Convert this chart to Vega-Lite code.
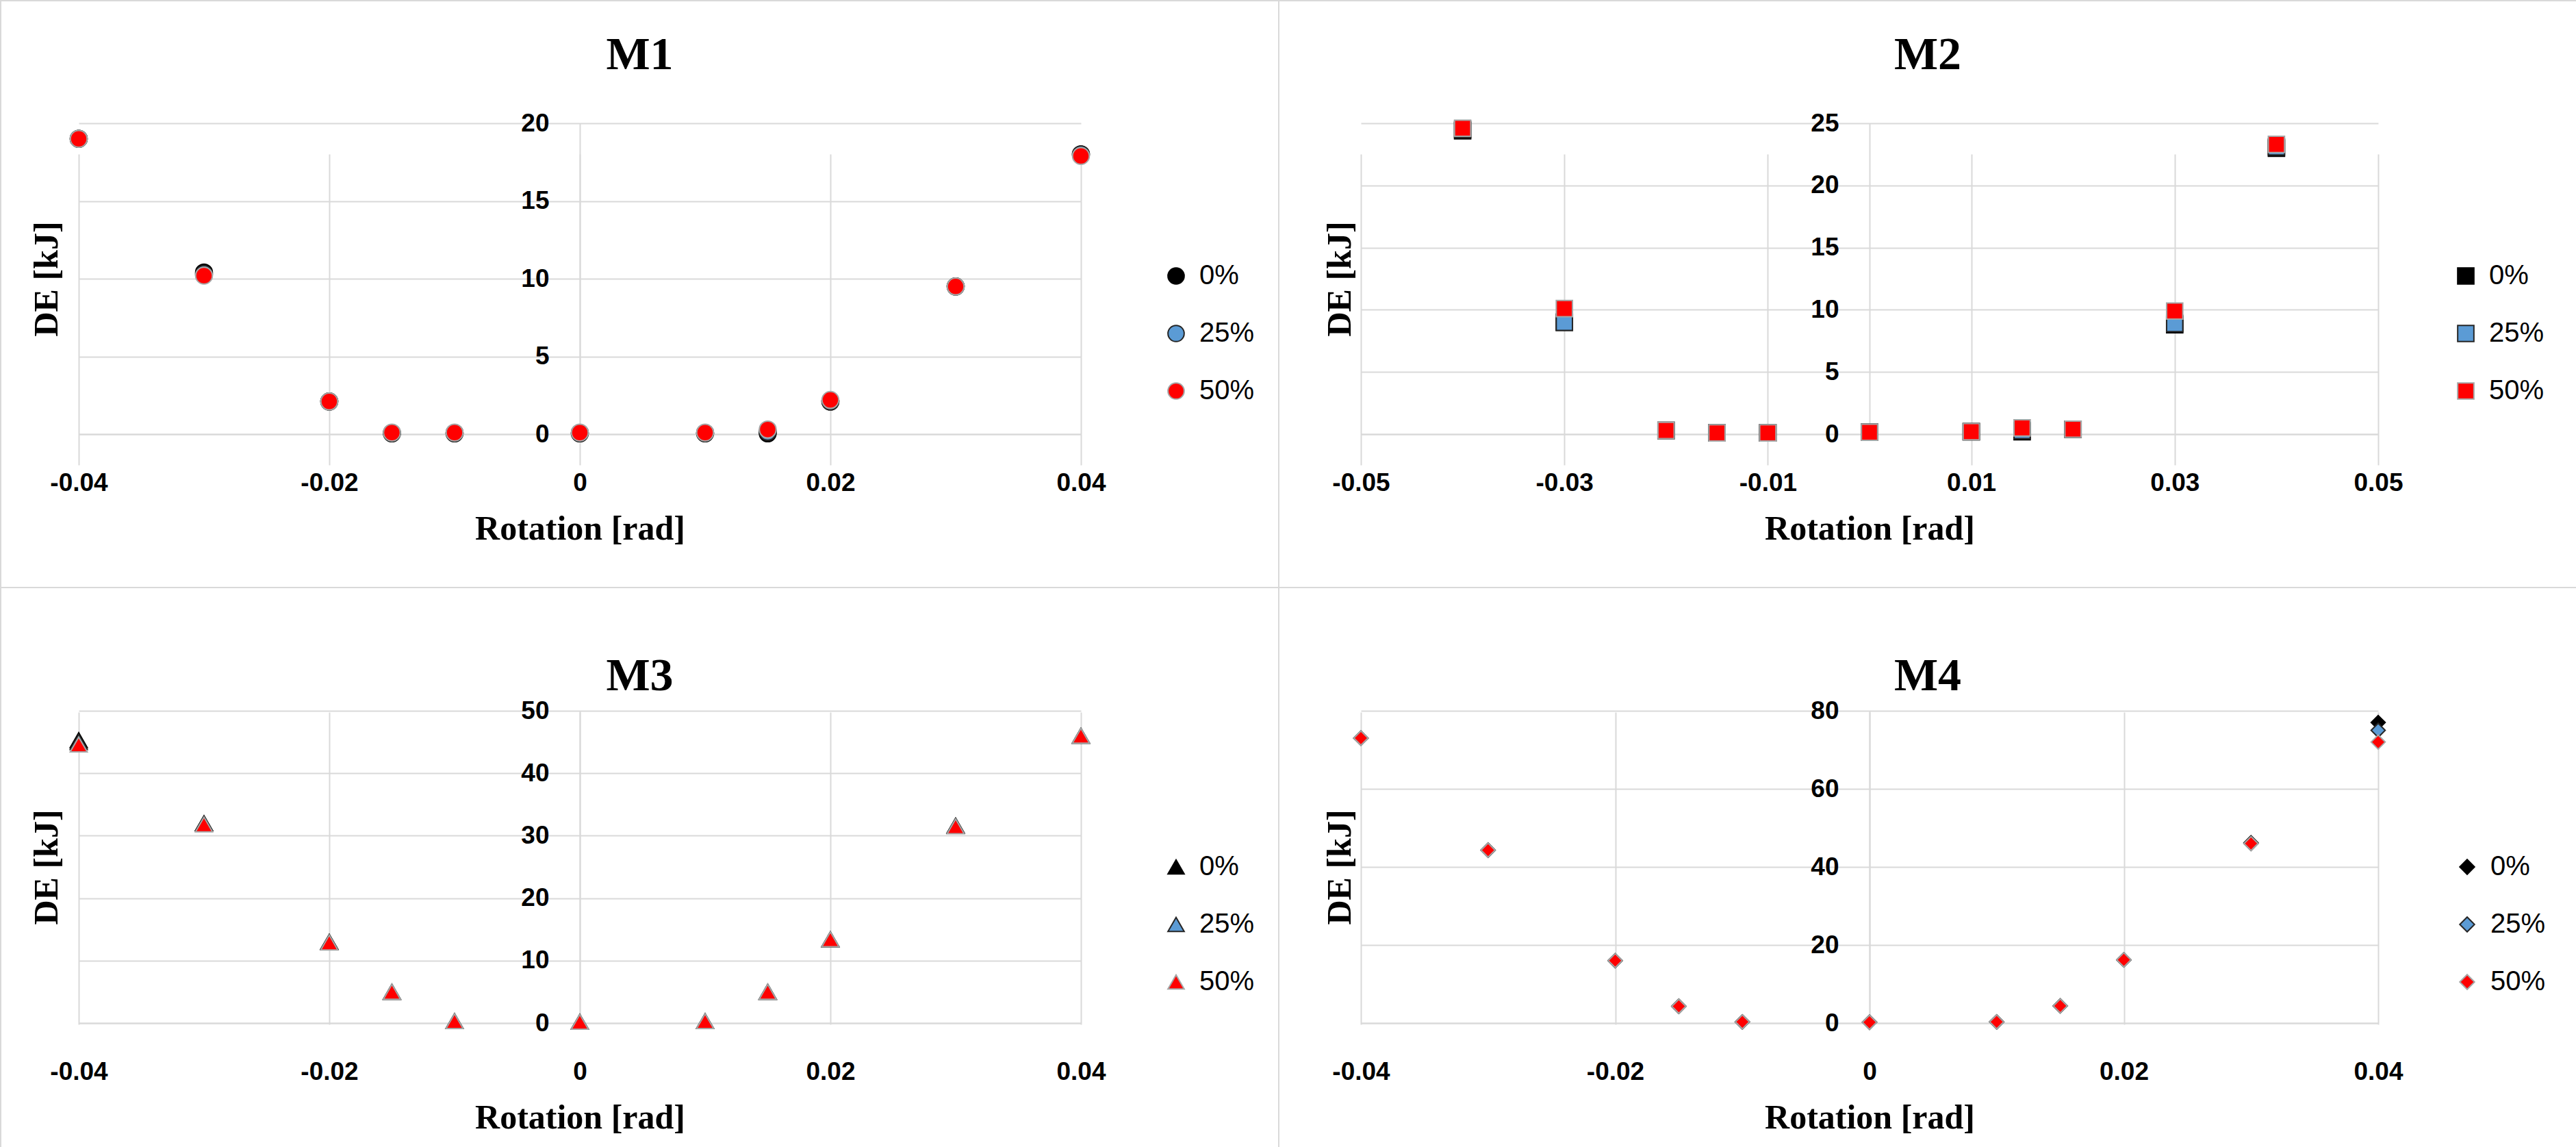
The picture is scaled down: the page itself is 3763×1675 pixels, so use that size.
{
  "$schema": "https://vega.github.io/schema/vega-lite/v6.json",
  "background": "white",
  "padding": 0,
  "data": {"values": [
    {"panel":"M1","x":-0.04,"de":19.0,"s":"0%"},{"panel":"M1","x":-0.04,"de":19.0,"s":"25%"},{"panel":"M1","x":-0.04,"de":19.0,"s":"50%"},
    {"panel":"M1","x":-0.03,"de":10.4,"s":"0%"},{"panel":"M1","x":-0.03,"de":10.3,"s":"25%"},{"panel":"M1","x":-0.03,"de":10.2,"s":"50%"},
    {"panel":"M1","x":-0.02,"de":2.1,"s":"0%"},{"panel":"M1","x":-0.02,"de":2.1,"s":"25%"},{"panel":"M1","x":-0.02,"de":2.1,"s":"50%"},
    {"panel":"M1","x":-0.015,"de":0.05,"s":"0%"},{"panel":"M1","x":-0.015,"de":0.08,"s":"25%"},{"panel":"M1","x":-0.015,"de":0.1,"s":"50%"},
    {"panel":"M1","x":-0.01,"de":0.05,"s":"0%"},{"panel":"M1","x":-0.01,"de":0.08,"s":"25%"},{"panel":"M1","x":-0.01,"de":0.1,"s":"50%"},
    {"panel":"M1","x":0,"de":0.05,"s":"0%"},{"panel":"M1","x":0,"de":0.08,"s":"25%"},{"panel":"M1","x":0,"de":0.1,"s":"50%"},
    {"panel":"M1","x":0.01,"de":0.05,"s":"0%"},{"panel":"M1","x":0.01,"de":0.08,"s":"25%"},{"panel":"M1","x":0.01,"de":0.1,"s":"50%"},
    {"panel":"M1","x":0.015,"de":0.05,"s":"0%"},{"panel":"M1","x":0.015,"de":0.15,"s":"25%"},{"panel":"M1","x":0.015,"de":0.3,"s":"50%"},
    {"panel":"M1","x":0.02,"de":2.1,"s":"0%"},{"panel":"M1","x":0.02,"de":2.1,"s":"25%"},{"panel":"M1","x":0.02,"de":2.2,"s":"50%"},
    {"panel":"M1","x":0.03,"de":9.5,"s":"0%"},{"panel":"M1","x":0.03,"de":9.5,"s":"25%"},{"panel":"M1","x":0.03,"de":9.5,"s":"50%"},
    {"panel":"M1","x":0.04,"de":18.0,"s":"0%"},{"panel":"M1","x":0.04,"de":18.0,"s":"25%"},{"panel":"M1","x":0.04,"de":17.9,"s":"50%"},

    {"panel":"M2","x":-0.04,"de":24.4,"s":"0%"},{"panel":"M2","x":-0.04,"de":24.5,"s":"25%"},{"panel":"M2","x":-0.04,"de":24.6,"s":"50%"},
    {"panel":"M2","x":-0.03,"de":9.0,"s":"0%"},{"panel":"M2","x":-0.03,"de":9.0,"s":"25%"},{"panel":"M2","x":-0.03,"de":10.1,"s":"50%"},
    {"panel":"M2","x":-0.02,"de":0.3,"s":"0%"},{"panel":"M2","x":-0.02,"de":0.3,"s":"25%"},{"panel":"M2","x":-0.02,"de":0.3,"s":"50%"},
    {"panel":"M2","x":-0.015,"de":0.1,"s":"0%"},{"panel":"M2","x":-0.015,"de":0.1,"s":"25%"},{"panel":"M2","x":-0.015,"de":0.1,"s":"50%"},
    {"panel":"M2","x":-0.01,"de":0.1,"s":"0%"},{"panel":"M2","x":-0.01,"de":0.1,"s":"25%"},{"panel":"M2","x":-0.01,"de":0.1,"s":"50%"},
    {"panel":"M2","x":0,"de":0.15,"s":"0%"},{"panel":"M2","x":0,"de":0.15,"s":"25%"},{"panel":"M2","x":0,"de":0.15,"s":"50%"},
    {"panel":"M2","x":0.01,"de":0.2,"s":"0%"},{"panel":"M2","x":0.01,"de":0.2,"s":"25%"},{"panel":"M2","x":0.01,"de":0.2,"s":"50%"},
    {"panel":"M2","x":0.015,"de":0.2,"s":"0%"},{"panel":"M2","x":0.015,"de":0.3,"s":"25%"},{"panel":"M2","x":0.015,"de":0.5,"s":"50%"},
    {"panel":"M2","x":0.02,"de":0.4,"s":"0%"},{"panel":"M2","x":0.02,"de":0.4,"s":"25%"},{"panel":"M2","x":0.02,"de":0.4,"s":"50%"},
    {"panel":"M2","x":0.03,"de":8.8,"s":"0%"},{"panel":"M2","x":0.03,"de":8.9,"s":"25%"},{"panel":"M2","x":0.03,"de":9.9,"s":"50%"},
    {"panel":"M2","x":0.04,"de":23.0,"s":"0%"},{"panel":"M2","x":0.04,"de":23.1,"s":"25%"},{"panel":"M2","x":0.04,"de":23.3,"s":"50%"},

    {"panel":"M3","x":-0.04,"de":45.3,"s":"0%"},{"panel":"M3","x":-0.04,"de":45.0,"s":"25%"},{"panel":"M3","x":-0.04,"de":44.6,"s":"50%"},
    {"panel":"M3","x":-0.03,"de":32.0,"s":"0%"},{"panel":"M3","x":-0.03,"de":32.0,"s":"25%"},{"panel":"M3","x":-0.03,"de":31.8,"s":"50%"},
    {"panel":"M3","x":-0.02,"de":13.0,"s":"0%"},{"panel":"M3","x":-0.02,"de":13.0,"s":"25%"},{"panel":"M3","x":-0.02,"de":12.9,"s":"50%"},
    {"panel":"M3","x":-0.015,"de":5.0,"s":"0%"},{"panel":"M3","x":-0.015,"de":5.0,"s":"25%"},{"panel":"M3","x":-0.015,"de":5.0,"s":"50%"},
    {"panel":"M3","x":-0.01,"de":0.3,"s":"0%"},{"panel":"M3","x":-0.01,"de":0.3,"s":"25%"},{"panel":"M3","x":-0.01,"de":0.3,"s":"50%"},
    {"panel":"M3","x":0,"de":0.2,"s":"0%"},{"panel":"M3","x":0,"de":0.2,"s":"25%"},{"panel":"M3","x":0,"de":0.2,"s":"50%"},
    {"panel":"M3","x":0.01,"de":0.3,"s":"0%"},{"panel":"M3","x":0.01,"de":0.3,"s":"25%"},{"panel":"M3","x":0.01,"de":0.3,"s":"50%"},
    {"panel":"M3","x":0.015,"de":5.0,"s":"0%"},{"panel":"M3","x":0.015,"de":5.0,"s":"25%"},{"panel":"M3","x":0.015,"de":5.0,"s":"50%"},
    {"panel":"M3","x":0.02,"de":13.4,"s":"0%"},{"panel":"M3","x":0.02,"de":13.4,"s":"25%"},{"panel":"M3","x":0.02,"de":13.4,"s":"50%"},
    {"panel":"M3","x":0.03,"de":31.6,"s":"0%"},{"panel":"M3","x":0.03,"de":31.6,"s":"25%"},{"panel":"M3","x":0.03,"de":31.5,"s":"50%"},
    {"panel":"M3","x":0.04,"de":46.0,"s":"0%"},{"panel":"M3","x":0.04,"de":46.0,"s":"25%"},{"panel":"M3","x":0.04,"de":46.0,"s":"50%"},

    {"panel":"M4","x":-0.04,"de":73.0,"s":"0%"},{"panel":"M4","x":-0.04,"de":73.0,"s":"25%"},{"panel":"M4","x":-0.04,"de":73.0,"s":"50%"},
    {"panel":"M4","x":-0.03,"de":44.3,"s":"0%"},{"panel":"M4","x":-0.03,"de":44.3,"s":"25%"},{"panel":"M4","x":-0.03,"de":44.3,"s":"50%"},
    {"panel":"M4","x":-0.02,"de":16.0,"s":"0%"},{"panel":"M4","x":-0.02,"de":16.0,"s":"25%"},{"panel":"M4","x":-0.02,"de":16.0,"s":"50%"},
    {"panel":"M4","x":-0.015,"de":4.3,"s":"0%"},{"panel":"M4","x":-0.015,"de":4.3,"s":"25%"},{"panel":"M4","x":-0.015,"de":4.3,"s":"50%"},
    {"panel":"M4","x":-0.01,"de":0.3,"s":"0%"},{"panel":"M4","x":-0.01,"de":0.3,"s":"25%"},{"panel":"M4","x":-0.01,"de":0.3,"s":"50%"},
    {"panel":"M4","x":0,"de":0.2,"s":"0%"},{"panel":"M4","x":0,"de":0.2,"s":"25%"},{"panel":"M4","x":0,"de":0.2,"s":"50%"},
    {"panel":"M4","x":0.01,"de":0.3,"s":"0%"},{"panel":"M4","x":0.01,"de":0.3,"s":"25%"},{"panel":"M4","x":0.01,"de":0.3,"s":"50%"},
    {"panel":"M4","x":0.015,"de":4.4,"s":"0%"},{"panel":"M4","x":0.015,"de":4.4,"s":"25%"},{"panel":"M4","x":0.015,"de":4.4,"s":"50%"},
    {"panel":"M4","x":0.02,"de":16.2,"s":"0%"},{"panel":"M4","x":0.02,"de":16.2,"s":"25%"},{"panel":"M4","x":0.02,"de":16.2,"s":"50%"},
    {"panel":"M4","x":0.03,"de":46.2,"s":"0%"},{"panel":"M4","x":0.03,"de":46.0,"s":"25%"},{"panel":"M4","x":0.03,"de":46.0,"s":"50%"},
    {"panel":"M4","x":0.04,"de":77.0,"s":"0%"},{"panel":"M4","x":0.04,"de":75.0,"s":"25%"},{"panel":"M4","x":0.04,"de":72.0,"s":"50%"}
  ]},
  "columns": 2,
  "spacing": 0,
  "bounds": "flush",
  "align": "each",
  "resolve": {"scale": {"fill": "independent", "stroke": "independent"}},
  "concat": [
    {
      "width": 1867, "height": 857,
      "title": {"text": "M1", "offset": -148, "baseline": "middle", "frame": "group"},
      "transform": [{"filter": "datum.panel === 'M1'"}],
      "mark": {"type": "point", "shape": "circle", "filled": true, "size": 600, "strokeWidth": 2, "opacity": 1},
      "encoding": {
        "x": {"field": "x", "type": "quantitative",
              "scale": {"domain": [-0.04, 0.04], "range": [114, 1578], "nice": false, "zero": false},
              "axis": {"values": [-0.04, -0.02, 0, 0.02, 0.04], "offset": -224, "title": "Rotation [rad]"}},
        "y": {"field": "de", "type": "quantitative",
              "scale": {"domain": [0, 20], "range": [633, 179], "nice": false},
              "axis": {"values": [0, 5, 10, 15, 20], "offset": -846, "title": "DE [kJ]", "titleX": -779}},
        "fill": {"field": "s", "type": "nominal",
                 "scale": {"domain": ["0%", "25%", "50%"], "range": ["#000000", "#5B9BD5", "#FF0000"]},
                 "legend": {"orient": "none", "legendX": 1697, "legendY": 382, "symbolType": "circle", "symbolSize": 560}},
        "stroke": {"field": "s", "type": "nominal",
                   "scale": {"domain": ["0%", "25%", "50%"], "range": ["#000000", "#262626", "#A6A6A6"]},
                   "legend": {"orient": "none", "legendX": 1697, "legendY": 382, "symbolType": "circle", "symbolSize": 560}}
      }
    },
    {
      "width": 1896, "height": 857,
      "title": {"text": "M2", "offset": -148, "baseline": "middle", "frame": "group"},
      "transform": [{"filter": "datum.panel === 'M2'"}],
      "mark": {"type": "point", "shape": "square", "filled": true, "size": 560, "strokeWidth": 2, "opacity": 1},
      "encoding": {
        "x": {"field": "x", "type": "quantitative",
              "scale": {"domain": [-0.05, 0.05], "range": [120, 1606], "nice": false, "zero": false},
              "axis": {"values": [-0.05, -0.03, -0.01, 0.01, 0.03, 0.05], "offset": -224, "title": "Rotation [rad]"}},
        "y": {"field": "de", "type": "quantitative",
              "scale": {"domain": [0, 25], "range": [633, 179], "nice": false},
              "axis": {"values": [0, 5, 10, 15, 20, 25], "offset": -863, "title": "DE [kJ]", "titleX": -774}},
        "fill": {"field": "s", "type": "nominal",
                 "scale": {"domain": ["0%", "25%", "50%"], "range": ["#000000", "#5B9BD5", "#FF0000"]},
                 "legend": {"orient": "none", "legendX": 1714, "legendY": 382, "symbolType": "square", "symbolSize": 560}},
        "stroke": {"field": "s", "type": "nominal",
                   "scale": {"domain": ["0%", "25%", "50%"], "range": ["#000000", "#262626", "#A6A6A6"]},
                   "legend": {"orient": "none", "legendX": 1714, "legendY": 382, "symbolType": "square", "symbolSize": 560}}
      }
    },
    {
      "width": 1867, "height": 818,
      "title": {"text": "M3", "offset": -198, "baseline": "middle", "frame": "group"},
      "transform": [{"filter": "datum.panel === 'M3'"}],
      "mark": {"type": "point", "shape": "triangle-up", "filled": true, "size": 620, "strokeWidth": 2, "opacity": 1},
      "encoding": {
        "x": {"field": "x", "type": "quantitative",
              "scale": {"domain": [-0.04, 0.04], "range": [114, 1578], "nice": false, "zero": false},
              "axis": {"values": [-0.04, -0.02, 0, 0.02, 0.04], "offset": -182, "title": "Rotation [rad]"}},
        "y": {"field": "de", "type": "quantitative",
              "scale": {"domain": [0, 50], "range": [636, 180], "nice": false},
              "axis": {"values": [0, 10, 20, 30, 40, 50], "offset": -846, "title": "DE [kJ]", "titleX": -779}},
        "fill": {"field": "s", "type": "nominal",
                 "scale": {"domain": ["0%", "25%", "50%"], "range": ["#000000", "#5B9BD5", "#FF0000"]},
                 "legend": {"orient": "none", "legendX": 1697, "legendY": 388, "symbolType": "triangle-up", "symbolSize": 560}},
        "stroke": {"field": "s", "type": "nominal",
                   "scale": {"domain": ["0%", "25%", "50%"], "range": ["#000000", "#262626", "#A6A6A6"]},
                   "legend": {"orient": "none", "legendX": 1697, "legendY": 388, "symbolType": "triangle-up", "symbolSize": 560}}
      }
    },
    {
      "width": 1896, "height": 818,
      "title": {"text": "M4", "offset": -198, "baseline": "middle", "frame": "group"},
      "transform": [{"filter": "datum.panel === 'M4'"}],
      "mark": {"type": "point", "shape": "diamond", "filled": true, "size": 420, "strokeWidth": 2, "opacity": 1},
      "encoding": {
        "x": {"field": "x", "type": "quantitative",
              "scale": {"domain": [-0.04, 0.04], "range": [120, 1606], "nice": false, "zero": false},
              "axis": {"values": [-0.04, -0.02, 0, 0.02, 0.04], "offset": -182, "title": "Rotation [rad]"}},
        "y": {"field": "de", "type": "quantitative",
              "scale": {"domain": [0, 80], "range": [636, 180], "nice": false},
              "axis": {"values": [0, 20, 40, 60, 80], "offset": -863, "title": "DE [kJ]", "titleX": -774}},
        "fill": {"field": "s", "type": "nominal",
                 "scale": {"domain": ["0%", "25%", "50%"], "range": ["#000000", "#5B9BD5", "#FF0000"]},
                 "legend": {"orient": "none", "legendX": 1716, "legendY": 388, "symbolType": "diamond", "symbolSize": 460}},
        "stroke": {"field": "s", "type": "nominal",
                   "scale": {"domain": ["0%", "25%", "50%"], "range": ["#000000", "#262626", "#A6A6A6"]},
                   "legend": {"orient": "none", "legendX": 1716, "legendY": 388, "symbolType": "diamond", "symbolSize": 460}}
      }
    }
  ],
  "config": {
    "view": {"stroke": "#D9D9D9", "strokeWidth": 2},
    "title": {"font": "Liberation Serif", "fontSize": 68, "fontWeight": "bold", "color": "#000000", "anchor": "middle"},
    "axis": {
      "labelFont": "Liberation Sans", "labelFontSize": 37, "labelFontWeight": "bold", "labelColor": "#000000",
      "titleFont": "Liberation Serif", "titleFontSize": 50, "titleFontWeight": "bold", "titleColor": "#000000",
      "gridColor": "#D9D9D9", "gridWidth": 2, "domainColor": "#D9D9D9", "domainWidth": 2,
      "ticks": false, "labelFlush": false, "labelOverlap": false, "labelBound": false
    },
    "axisX": {"labelPadding": 53, "titlePadding": 24,
              "labelExpr": "replace(format(datum.value, '.2~f'), '\u2212', '-')"},
    "axisY": {"labelPadding": 45, "titleBaseline": "middle", "format": "d"},
    "legend": {"title": null, "labelFont": "Liberation Sans", "labelFontSize": 40, "labelColor": "#000000",
               "rowPadding": 44, "labelOffset": 14, "symbolStrokeWidth": 2, "symbolOpacity": 1, "padding": 0}
  }
}
